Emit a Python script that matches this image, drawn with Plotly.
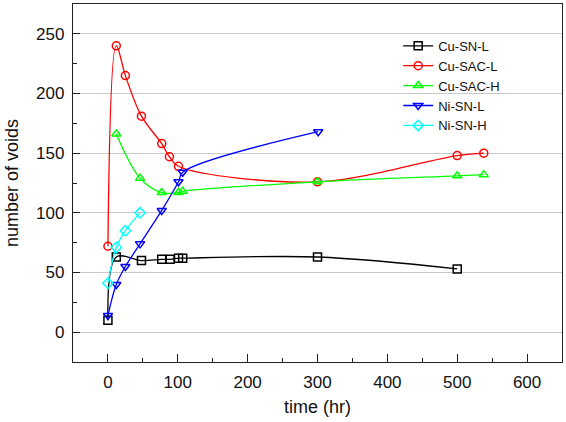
import plotly.graph_objects as go

# Data
cu_sn_l_t = [0, 12, 48, 77, 89, 101, 107, 300, 500]
cu_sn_l_v = [10, 63, 60, 61, 61, 62, 62, 63, 53]

cu_sac_l_t = [0, 12, 25, 48, 77, 88, 101, 300, 500, 538]
cu_sac_l_v = [72, 240, 215, 181, 158, 147, 139, 126, 148, 150]

cu_sac_h_t = [12, 46, 77, 101, 107, 300, 500, 538]
cu_sac_h_v = [166, 129, 117, 117, 118, 126, 131, 132]

ni_sn_l_t = [0, 12, 25, 46, 77, 101, 107, 301]
ni_sn_l_v = [14, 40, 55, 74, 102, 126, 134, 168]

ni_sn_h_t = [0, 12, 25, 46]
ni_sn_h_v = [41, 71, 85, 100]

series = [
    ("Cu-SN-L", cu_sn_l_t, cu_sn_l_v, "#000000", "square-open"),
    ("Cu-SAC-L", cu_sac_l_t, cu_sac_l_v, "#ff0000", "circle-open"),
    ("Cu-SAC-H", cu_sac_h_t, cu_sac_h_v, "#00ff00", "triangle-up-open"),
    ("Ni-SN-L", ni_sn_l_t, ni_sn_l_v, "#0000ff", "triangle-down-open"),
    ("Ni-SN-H", ni_sn_h_t, ni_sn_h_v, "#00ffff", "diamond-open"),
]

FONT = "Liberation Sans, Arial"

fig = go.Figure()
for name, t, v, color, sym in series:
    fig.add_trace(go.Scatter(
        x=t, y=v, name=name, mode="lines+markers",
        line=dict(color=color, width=1.3, shape="spline", smoothing=1.0),
        marker=dict(symbol=sym, size=8, color=color, line=dict(color=color, width=1.5)),
    ))

axis_common = dict(
    showline=True, linecolor="#222222", linewidth=1.3, mirror=True,
    ticks="inside", tickcolor="#222222", tickwidth=1.2,
    tickfont=dict(family=FONT, size=17, color="#111111"),
    zeroline=False,
)

fig.update_xaxes(
    range=[-50, 650], tick0=0, dtick=100, ticklen=8, showgrid=False,
    ticklabelstandoff=4,
    minor=dict(ticks="inside", ticklen=4, dtick=50, tickcolor="#222222", showgrid=False),
    title=dict(text="time (hr)", font=dict(family=FONT, size=18, color="#111111"), standoff=9),
    **axis_common,
)
fig.update_yaxes(
    range=[-25, 275], tick0=0, dtick=50, ticklen=7, showgrid=True,
    gridcolor="#c8c8c8", gridwidth=1.2, ticklabelstandoff=4,
    minor=dict(ticks="inside", ticklen=4, dtick=25, tickcolor="#222222", showgrid=False),
    title=dict(text="number of voids", font=dict(family=FONT, size=18, color="#111111"), standoff=12),
    **axis_common,
)

fig.update_layout(
    width=566, height=422,
    margin=dict(l=73, r=4, t=4, b=60),
    plot_bgcolor="white", paper_bgcolor="white",
    legend=dict(
        x=0.665, y=0.925, xanchor="left", yanchor="top",
        font=dict(family=FONT, size=13, color="#111111"),
        bgcolor="rgba(0,0,0,0)", tracegroupgap=0, itemwidth=30,
    ),
)

fig.write_html("out.html", config={"displayModeBar": False},
               post_script="document.body.style.margin='0';")
